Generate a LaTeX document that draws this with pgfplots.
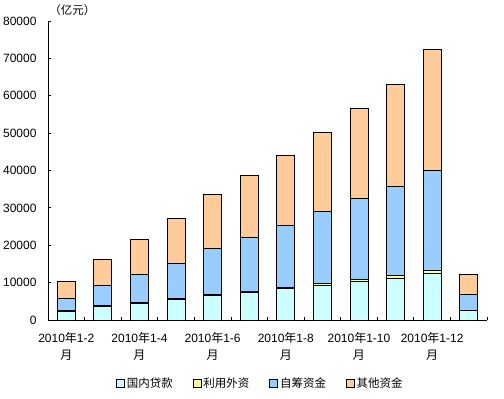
\documentclass[border=0pt]{standalone}
\usepackage{fontspec}
\setmainfont{Liberation Sans}
\newfontfamily\cjk{Noto Sans CJK SC}
\usepackage{pgfplots}
\pgfplotsset{compat=1.18}
\definecolor{cA}{HTML}{CCFFFF}
\definecolor{cB}{HTML}{FFFF99}
\definecolor{cC}{HTML}{99CCFF}
\definecolor{cD}{HTML}{FFCC99}
\begin{document}
\begin{tikzpicture}
\path[use as bounding box] (0,0) rectangle (504pt,399pt);
\begin{axis}[
  at={(48pt,79pt)}, anchor=south west,
  scale only axis, width=439pt, height=299pt,
  ybar stacked, bar width=18pt,
  xmin=-0.5, xmax=11.5, ymin=0, ymax=80000,
  axis x line*=bottom, axis y line*=left,
  axis line style={black, line width=0.8pt},
  tick align=inside, major tick length=3pt,
  tick style={black, line width=0.8pt},
  ytick={0,10000,...,80000},
  xtick={-0.5,0.5,...,11.5}, xticklabels={},
  extra x ticks={0,2,4,6,8,10},
  extra x tick labels={
    {2010{\cjk 年}1-2\\{\cjk 月}},
    {2010{\cjk 年}1-4\\{\cjk 月}},
    {2010{\cjk 年}1-6\\{\cjk 月}},
    {2010{\cjk 年}1-8\\{\cjk 月}},
    {2010{\cjk 年}1-10\\{\cjk 月}},
    {2010{\cjk 年}1-12\\{\cjk 月}}},
  extra x tick style={major tick length=0pt,
    tick label style={align=center, font=\fontsize{12}{17}\selectfont, yshift=-9pt}},
  yticklabel style={font=\fontsize{12}{14}\selectfont, xshift=-8pt},
  /pgf/number format/assume math mode=true,
  /pgf/number format/1000 sep={},
  scaled y ticks=false,
  clip=false,
  legend style={at={(0.484,-0.211)}, anchor=center, legend columns=4, draw=none,
    font=\cjk\fontsize{11.5}{13}\selectfont,
    /tikz/every even column/.append style={column sep=18pt}},
  legend image code/.code={\draw[#1, draw=black, line width=0.6pt] (0pt,-4pt) rectangle (8pt,4pt);},
]
\addplot[fill=cA, draw=black, line width=0.8pt] coordinates {(0,2400) (1,3700) (2,4500) (3,5500) (4,6600) (5,7500) (6,8500) (7,9200) (8,10200) (9,11100) (10,12540) (11,2600)};
\addplot[fill=cB, draw=black, line width=0.8pt] coordinates {(0,300) (1,150) (2,300) (3,150) (4,300) (5,250) (6,300) (7,600) (8,600) (9,800) (10,790) (11,100)};
\addplot[fill=cC, draw=black, line width=0.8pt] coordinates {(0,3000) (1,5450) (2,7400) (3,9550) (4,12300) (5,14350) (6,16500) (7,19300) (8,21800) (9,23900) (10,26700) (11,4200)};
\addplot[fill=cD, draw=black, line width=0.8pt] coordinates {(0,4600) (1,6900) (2,9400) (3,12000) (4,14400) (5,16700) (6,18800) (7,21100) (8,24000) (9,27200) (10,32460) (11,5300)};
\legend{国内贷款,利用外资,自筹资金,其他资金}
\node[anchor=west, font=\cjk\fontsize{11.5}{13}\selectfont] at (rel axis cs:-0.005,1.035) {（亿元）};
\end{axis}
\end{tikzpicture}
\end{document}
